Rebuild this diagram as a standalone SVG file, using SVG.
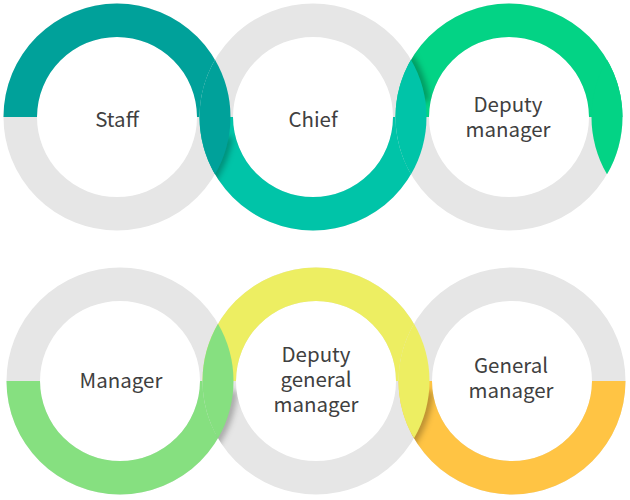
<svg xmlns="http://www.w3.org/2000/svg" width="630" height="500" viewBox="0 0 630 500">
  <style>
    .track { fill: none; stroke: #E6E6E6; stroke-width: 33.5; }
    .label { font-family: "Noto Sans CJK KR", "Noto Sans", "Liberation Sans", sans-serif; font-size: 20.5px; fill: #404040; text-anchor: middle; }
    .shadow { fill: none; stroke: #000; stroke-opacity: 0.3; stroke-width: 8; filter: url(#blur); }
    .c-staff { fill: #00A19A; }
    .c-chief { fill: #00C4A8; }
    .c-deputy { fill: #03D385; }
    .c-manager { fill: #86E080; }
    .c-dgm { fill: #EDEE62; }
    .c-gm { fill: #FFC444; }
  </style>
  <defs>
    <filter id="blur" x="-50%" y="-50%" width="200%" height="200%">
      <feGaussianBlur stdDeviation="3"/>
    </filter>
    <clipPath id="clip-chief"><path clip-rule="evenodd" d="M199.5,117 a113.5,113.5 0 1 0 227,0 a113.5,113.5 0 1 0 -227,0 Z M233,117 a80,80 0 1 0 160,0 a80,80 0 1 0 -160,0 Z"/></clipPath>
    <clipPath id="clip-deputy"><path clip-rule="evenodd" d="M395.5,117 a113.5,113.5 0 1 0 227,0 a113.5,113.5 0 1 0 -227,0 Z M429,117 a80,80 0 1 0 160,0 a80,80 0 1 0 -160,0 Z"/></clipPath>
    <clipPath id="clip-dgm"><path clip-rule="evenodd" d="M202.5,381 a113.5,113.5 0 1 0 227,0 a113.5,113.5 0 1 0 -227,0 Z M236,381 a80,80 0 1 0 160,0 a80,80 0 1 0 -160,0 Z"/></clipPath>
    <clipPath id="clip-gm"><path clip-rule="evenodd" d="M398.5,381 a113.5,113.5 0 1 0 227,0 a113.5,113.5 0 1 0 -227,0 Z M432,381 a80,80 0 1 0 160,0 a80,80 0 1 0 -160,0 Z"/></clipPath>
  </defs>

  <rect width="630" height="500" fill="#FFFFFF"/>

  <g id="staff">
    <circle class="track" cx="117" cy="117" r="96.75"/>
    <path class="c-staff" d="M3.5,117 A113.5,113.5 0 0 1 230.5,117 L197,117 A80,80 0 0 0 37,117 Z"/>
    <text class="label" x="117" y="127">Staff</text>
  </g>

  <g id="chief">
    <circle class="track" cx="313" cy="117" r="96.75"/>
    <path class="c-chief" d="M199.5,117 A113.5,113.5 0 0 0 426.5,117 L393,117 A80,80 0 0 1 233,117 Z"/>
    <text class="label" x="313" y="127">Chief</text>
  </g>

  <g id="deputy-manager">
    <circle class="track" cx="509" cy="117" r="96.75"/>
    <path class="c-deputy" d="M395.5,117 A113.5,113.5 0 0 1 622.5,117 L589,117 A80,80 0 0 0 429,117 Z"/>
    <text class="label" x="508" y="112"><tspan x="508" y="112">Deputy</tspan><tspan x="508" y="137">manager</tspan></text>
  </g>

  <g id="manager">
    <circle class="track" cx="120" cy="381" r="96.75"/>
    <path class="c-manager" d="M6.5,381 A113.5,113.5 0 0 0 233.5,381 L200,381 A80,80 0 0 1 40,381 Z"/>
    <text class="label" x="121" y="388">Manager</text>
  </g>

  <g id="deputy-general-manager">
    <circle class="track" cx="316" cy="381" r="96.75"/>
    <path class="c-dgm" d="M202.5,381 A113.5,113.5 0 0 1 429.5,381 L396,381 A80,80 0 0 0 236,381 Z"/>
    <text class="label" x="316" y="362"><tspan x="316" y="362">Deputy</tspan><tspan x="316" y="387">general</tspan><tspan x="316" y="412">manager</tspan></text>
  </g>

  <g id="general-manager">
    <circle class="track" cx="512" cy="381" r="96.75"/>
    <path class="c-gm" d="M398.5,381 A113.5,113.5 0 0 0 625.5,381 L592,381 A80,80 0 0 1 432,381 Z"/>
    <text class="label" x="511" y="373"><tspan x="511" y="373">General</tspan><tspan x="511" y="398">manager</tspan></text>
  </g>

  <g id="overlaps">
    <path class="shadow" clip-path="url(#clip-chief)" d="M228.8,136.7 A113.5,113.5 0 0 1 210,182.1"/>
    <path class="shadow" clip-path="url(#clip-deputy)" d="M409.3,56.9 A113.5,113.5 0 0 1 425.4,101.2"/>
    <path class="shadow" clip-path="url(#clip-dgm)" d="M233.1,390.9 A113.5,113.5 0 0 1 213,446.1"/>
    <path class="shadow" clip-path="url(#clip-gm)" d="M429.1,390.9 A113.5,113.5 0 0 1 409,446.1"/>

    <path class="c-staff" d="M215,59.74 A113.5,113.5 0 0 1 215,174.26 A113.5,113.5 0 0 1 215,59.74 Z"/>
    <path class="c-chief" d="M411,59.74 A113.5,113.5 0 0 1 411,174.26 A113.5,113.5 0 0 1 411,59.74 Z"/>
    <path class="c-deputy" d="M607,59.74 A113.5,113.5 0 0 1 607,174.26 A113.5,113.5 0 0 1 607,59.74 Z"/>
    <path class="c-manager" d="M218,323.74 A113.5,113.5 0 0 1 218,438.26 A113.5,113.5 0 0 1 218,323.74 Z"/>
    <path class="c-dgm" d="M414,323.74 A113.5,113.5 0 0 1 414,438.26 A113.5,113.5 0 0 1 414,323.74 Z"/>
  </g>
</svg>
